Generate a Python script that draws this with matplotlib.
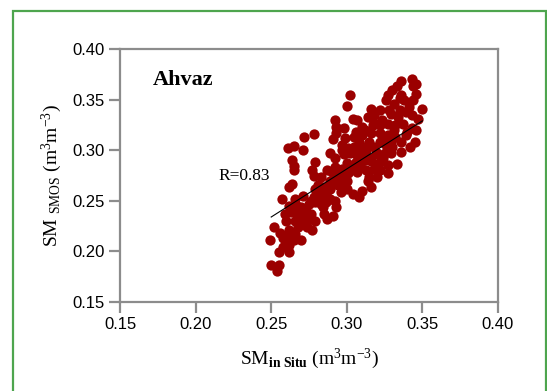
import matplotlib
matplotlib.use("Agg")
import matplotlib.pyplot as plt
from matplotlib.patches import Rectangle

# SMOS vs in situ soil moisture, Ahvaz station
sm_in_situ = [
    0.302, 0.300, 0.278, 0.272, 0.271, 0.261, 0.265, 0.264, 0.265, 0.265,
    0.279, 0.277, 0.278, 0.257, 0.262, 0.264, 0.249, 0.252, 0.250, 0.254,
    0.255, 0.255, 0.262, 0.258, 0.262, 0.266, 0.270, 0.268, 0.260, 0.259,
    0.263, 0.267, 0.268, 0.262, 0.277, 0.274, 0.279, 0.276, 0.273, 0.279,
    0.285, 0.287, 0.291, 0.293, 0.292, 0.289, 0.284, 0.282, 0.279, 0.284,
    0.289, 0.291, 0.290, 0.296, 0.297, 0.300, 0.304, 0.308, 0.310, 0.316,
    0.320, 0.315, 0.313, 0.307, 0.301, 0.300, 0.306, 0.310, 0.315, 0.321,
    0.327, 0.333, 0.325, 0.330, 0.336, 0.342, 0.345, 0.346, 0.347, 0.350,
    0.343, 0.341, 0.344, 0.346, 0.344, 0.343, 0.346, 0.336, 0.333, 0.330,
    0.327, 0.326, 0.336, 0.338, 0.331, 0.335, 0.329, 0.322, 0.316, 0.318,
    0.314, 0.307, 0.304, 0.310, 0.317, 0.322, 0.327, 0.332, 0.337, 0.343,
    0.339, 0.332, 0.327, 0.322, 0.316, 0.310, 0.305, 0.299, 0.293, 0.292,
    0.293, 0.298, 0.291, 0.289, 0.292, 0.297, 0.305, 0.311, 0.318, 0.322,
    0.315, 0.308, 0.329, 0.336, 0.329, 0.320, 0.309, 0.302, 0.322, 0.327,
    0.318, 0.316, 0.309, 0.304, 0.297, 0.295, 0.289, 0.286, 0.283, 0.286,
    0.278, 0.275, 0.272, 0.274, 0.265, 0.262, 0.258, 0.256, 0.261, 0.269,
    0.266, 0.270, 0.298, 0.292, 0.287, 0.283, 0.281, 0.300, 0.312, 0.319,
    0.324, 0.331, 0.334, 0.339, 0.325, 0.319, 0.313, 0.306, 0.303, 0.296,
    0.294, 0.288, 0.284, 0.280, 0.276, 0.271, 0.266, 0.323, 0.328, 0.335,
    0.340, 0.318, 0.312, 0.306, 0.301, 0.297, 0.309, 0.314, 0.320, 0.326,
]
sm_smos = [
    0.355, 0.344, 0.316, 0.313, 0.300, 0.302, 0.304, 0.290, 0.284, 0.280,
    0.288, 0.280, 0.275, 0.252, 0.264, 0.267, 0.211, 0.224, 0.187, 0.181,
    0.187, 0.199, 0.199, 0.204, 0.221, 0.217, 0.211, 0.224, 0.230, 0.237,
    0.239, 0.245, 0.237, 0.245, 0.221, 0.230, 0.230, 0.237, 0.240, 0.249,
    0.237, 0.232, 0.235, 0.244, 0.250, 0.252, 0.244, 0.254, 0.262, 0.264,
    0.262, 0.270, 0.278, 0.259, 0.269, 0.262, 0.257, 0.254, 0.260, 0.264,
    0.274, 0.274, 0.280, 0.278, 0.277, 0.287, 0.288, 0.293, 0.292, 0.287,
    0.285, 0.286, 0.297, 0.303, 0.298, 0.303, 0.308, 0.320, 0.331, 0.341,
    0.335, 0.343, 0.350, 0.356, 0.363, 0.370, 0.365, 0.368, 0.363, 0.360,
    0.355, 0.350, 0.355, 0.350, 0.346, 0.340, 0.336, 0.340, 0.341, 0.335,
    0.333, 0.330, 0.331, 0.323, 0.325, 0.325, 0.326, 0.325, 0.326, 0.322,
    0.315, 0.313, 0.315, 0.317, 0.317, 0.315, 0.313, 0.312, 0.317, 0.330,
    0.323, 0.322, 0.311, 0.297, 0.292, 0.305, 0.303, 0.303, 0.303, 0.308,
    0.308, 0.308, 0.308, 0.308, 0.297, 0.297, 0.298, 0.297, 0.280, 0.277,
    0.281, 0.289, 0.284, 0.283, 0.281, 0.275, 0.270, 0.257, 0.247, 0.249,
    0.254, 0.247, 0.235, 0.224, 0.211, 0.206, 0.213, 0.218, 0.215, 0.230,
    0.230, 0.244, 0.296, 0.283, 0.280, 0.274, 0.266, 0.270, 0.290, 0.284,
    0.292, 0.320, 0.333, 0.338, 0.312, 0.296, 0.300, 0.296, 0.280, 0.275,
    0.266, 0.262, 0.258, 0.262, 0.250, 0.255, 0.252, 0.330, 0.340, 0.352,
    0.318, 0.327, 0.320, 0.318, 0.302, 0.300, 0.286, 0.270, 0.280, 0.305,
]

# fitted regression line
fit_x = [0.25, 0.35]
fit_y = [0.234, 0.329]

axis_ticks = [0.15, 0.20, 0.25, 0.30, 0.35, 0.40]

plt.rcParams['mathtext.fontset'] = 'custom'
plt.rcParams['mathtext.rm'] = 'Liberation Serif'
plt.rcParams['mathtext.it'] = 'Liberation Serif:italic'
plt.rcParams['mathtext.bf'] = 'Liberation Serif:bold'

fig = plt.figure(figsize=(5.47, 3.91), dpi=100)
ax = fig.add_axes([0.2194, 0.2276, 0.691, 0.647])

ax.scatter(sm_in_situ, sm_smos, s=55, color='#9b0000', linewidths=0, zorder=2)
ax.plot(fit_x, fit_y, color='black', linewidth=0.8, zorder=3)

ax.set_xlim(0.15, 0.40)
ax.set_ylim(0.15, 0.40)
ax.set_xticks(axis_ticks)
ax.set_yticks(axis_ticks)
ax.set_xticklabels(['%.2f' % t for t in axis_ticks], family='Liberation Sans', fontsize=12)
ax.set_yticklabels(['%.2f' % t for t in axis_ticks], family='Liberation Sans', fontsize=12)

for s in ax.spines.values():
    s.set_color('#8c8c8c')
    s.set_linewidth(1.6)
ax.tick_params(direction='out', length=8, width=1.6, color='#8c8c8c', pad=3)

ax.set_xlabel(r'SM$_{\mathbf{in\ Situ}}$ (m$^3$m$^{-3}$)', family='Liberation Serif',
              fontsize=14, labelpad=10)
ax.set_ylabel(r'SM $_{\mathrm{SMOS}}$ (m$^3$m$^{-3}$)', family='Liberation Serif',
              fontsize=14, labelpad=6)

ax.text(0.1718, 0.369, 'Ahvaz', family='Liberation Serif', fontweight='bold',
        fontsize=16, va='center', ha='left')
ax.text(0.2148, 0.2745, 'R=0.83', family='Liberation Serif', fontsize=12.5,
        va='center', ha='left')

# green frame around the figure (open at the bottom)
frame = Rectangle((13 / 547, -0.05), (546 - 13) / 547, 1.05 - 11 / 391,
                  transform=fig.transFigure, fill=False, edgecolor='#4ea54e',
                  linewidth=1.6, clip_on=False)
fig.patches.append(frame)

fig.savefig('out.png', dpi=100)
